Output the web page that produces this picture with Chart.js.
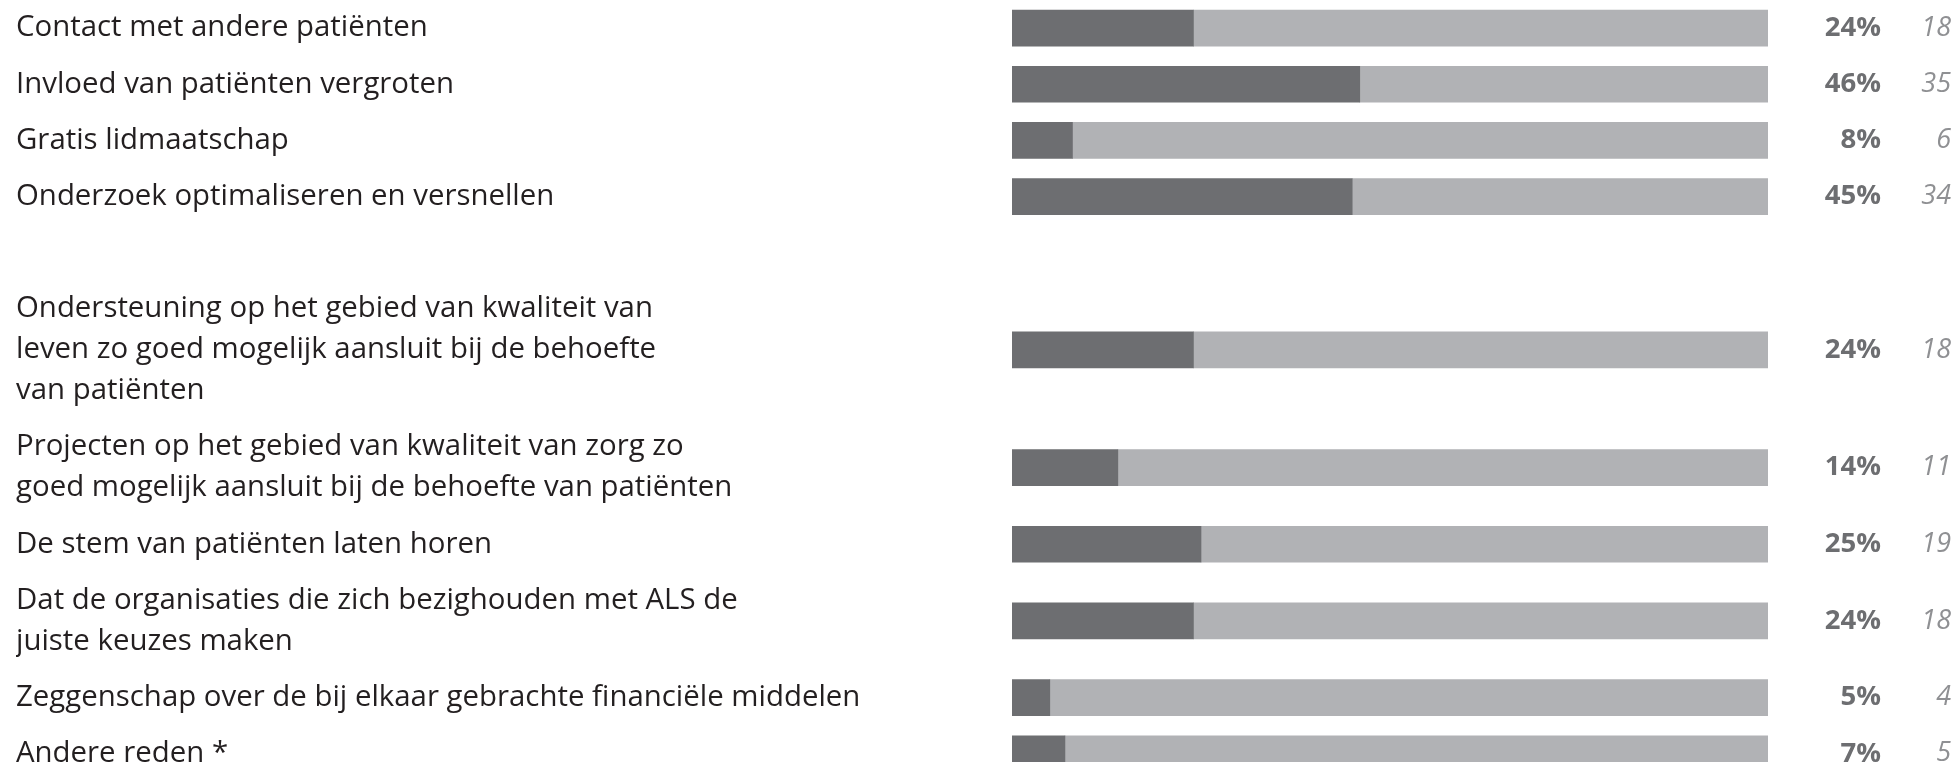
<!DOCTYPE html>
<html>
<head>
<meta charset="utf-8">
<script src="https://cdn.jsdelivr.net/npm/chart.js@4/dist/chart.umd.min.js"></script>
<style>
  html, body { margin: 0; padding: 0; background: #ffffff; }
  #wrap { width: 1957px; height: 762px; }
</style>
</head>
<body>
<div id="wrap"><canvas id="chart"></canvas></div>
<script>
const categories = [
  "Contact met andere patiënten",
  "Invloed van patiënten vergroten",
  "Gratis lidmaatschap",
  "Onderzoek optimaliseren en versnellen",
  ["Ondersteuning op het gebied van kwaliteit van", "leven zo goed mogelijk aansluit bij de behoefte", "van patiënten"],
  ["Projecten op het gebied van kwaliteit van zorg zo", "goed mogelijk aansluit bij de behoefte van patiënten"],
  "De stem van patiënten laten horen",
  ["Dat de organisaties die zich bezighouden met ALS de", "juiste keuzes maken"],
  "Zeggenschap over de bij elkaar gebrachte financiële middelen",
  "Andere reden *",
]
const percentages = [24, 46, 8, 45, 24, 14, 25, 24, 5, 7]
const counts = [18, 35, 6, 34, 18, 11, 19, 18, 4, 5]

const COLOR_DARK = "#6d6e71"
const COLOR_LIGHT = "#b1b2b5"
const COLOR_LABEL = "#231f20"
const COLOR_COUNT = "#8f9093"
const FONT_FAMILY = "'Open Sans', 'Noto Sans', sans-serif"
const LABEL_SIZE = 29.4

// rows are as tall as their label (in text lines) plus some padding,
// with one empty row after the first group
const ROW_PAD = 0.37
const GROUP_BREAK_AFTER = 3
const LINE_PX = 41
const rowCenters = []
let cursor = 0
categories.forEach((label, i) => {
  const lines = Array.isArray(label) ? label.length : 1
  const h = lines + ROW_PAD
  rowCenters.push(cursor + h / 2)
  cursor += h
  if (i === GROUP_BREAK_AFTER) cursor += 1 + ROW_PAD
})
const Y_MAX = 762 / LINE_PX

const setRowTicks = (scale) => {
  scale.ticks = rowCenters.map((v) => ({ value: v }))
}
const fixedWidth = (w) => (scale) => {
  scale.width = w
  scale.paddingTop = 0
  scale.paddingBottom = 0
}

const rowAxis = (extra) => ({
  type: "linear",
  min: 0,
  max: Y_MAX,
  reverse: true,
  offset: false,
  grid: { display: false, drawTicks: false },
  border: { display: false },
  afterBuildTicks: setRowTicks,
  ...extra,
})

new Chart(document.getElementById("chart"), {
  type: "bar",
  data: {
    datasets: [
      {
        label: "Percentage",
        data: percentages.map((p, i) => ({ x: p, y: rowCenters[i] })),
        backgroundColor: COLOR_DARK,
        barThickness: 36,
      },
      {
        label: "Rest",
        data: percentages.map((p, i) => ({ x: 100 - p, y: rowCenters[i] })),
        backgroundColor: COLOR_LIGHT,
        barThickness: 36,
      },
    ],
  },
  options: {
    indexAxis: "y",
    responsive: true,
    maintainAspectRatio: false,
    animation: false,
    layout: { padding: { left: 16, right: 6, top: 0, bottom: 0 } },
    scales: {
      x: {
        stacked: true,
        min: 0,
        max: 100,
        display: false,
      },
      y: rowAxis({
        position: "left",
        stacked: true,
        afterFit: fixedWidth(996),
        ticks: {
          autoSkip: false,
          crossAlign: "far",
          padding: 0,
          color: COLOR_LABEL,
          font: { family: FONT_FAMILY, size: LABEL_SIZE, lineHeight: LINE_PX / LABEL_SIZE },
          callback: (v, i) => categories[i],
        },
      }),
      yPct: rowAxis({
        position: "right",
        weight: 1,
        afterFit: fixedWidth(113),
        ticks: {
          autoSkip: false,
          crossAlign: "far",
          padding: 0,
          color: COLOR_DARK,
          font: { family: FONT_FAMILY, size: 27.5, weight: "bold" },
          callback: (v, i) => `${percentages[i]}%`,
        },
      }),
      yCount: rowAxis({
        position: "right",
        weight: 2,
        afterFit: fixedWidth(70),
        ticks: {
          autoSkip: false,
          crossAlign: "far",
          padding: 0,
          color: COLOR_COUNT,
          font: { family: FONT_FAMILY, size: 27, style: "italic" },
          callback: (v, i) => `${counts[i]}`,
        },
      }),
    },
    plugins: {
      legend: { display: false },
      tooltip: { enabled: false },
    },
  },
})
</script>
</body>
</html>
